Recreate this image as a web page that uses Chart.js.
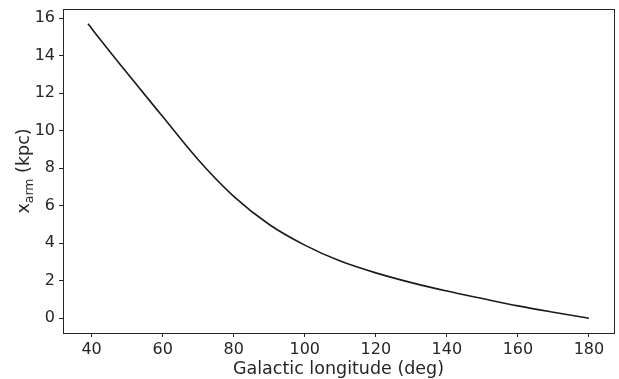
<!DOCTYPE html>
<html>
<head>
<meta charset="utf-8">
<script src="https://cdn.jsdelivr.net/npm/chart.js@4.4.1/dist/chart.umd.min.js"></script>
<style>
  html, body { margin: 0; padding: 0; background: #fff; }
  #wrap { width: 619px; height: 379px; }
</style>
</head>
<body>
<div id="wrap"><canvas id="arm-chart" width="619" height="379"></canvas></div>
<script>
// Galactic longitude (deg) and arm distance (kpc)
const longitude = [39, 40, 50, 60, 70, 80, 90, 100, 110, 120, 130, 140, 150, 160, 170, 180];
const xArm = [15.7, 15.45, 13.07, 10.75, 8.45, 6.5, 5.0, 3.9, 3.05, 2.42, 1.9, 1.45, 1.05, 0.66, 0.32, 0.0];

const xTicks = [40, 60, 80, 100, 120, 140, 160, 180];
const yTicks = [0, 2, 4, 6, 8, 10, 12, 14, 16];

const ink = '#262626';
const font = 'DejaVu Sans';

// box around the plot, plus the two axis labels (y one has a subscript)
const framePlugin = {
  id: 'frame',
  afterDraw(chart) {
    const { ctx, chartArea: a } = chart;
    ctx.save();
    ctx.strokeStyle = ink;
    ctx.lineWidth = 1;
    ctx.strokeRect(Math.round(a.left) + 0.5, Math.round(a.top) + 0.5,
      Math.round(a.right - a.left), Math.round(a.bottom - a.top));

    ctx.fillStyle = ink;
    ctx.textBaseline = 'alphabetic';
    ctx.font = '17.5px ' + font;
    ctx.textAlign = 'center';
    ctx.fillText('Galactic longitude (deg)', (a.left + a.right) / 2, 374);

    // y label: x_arm (kpc), rotated
    ctx.translate(29, (a.top + a.bottom) / 2);
    ctx.rotate(-Math.PI / 2);
    ctx.textAlign = 'left';
    ctx.font = '17.5px ' + font;
    const w1 = ctx.measureText('x').width;
    const w3 = ctx.measureText(' (kpc)').width;
    ctx.font = '12.5px ' + font;
    const w2 = ctx.measureText('arm').width;
    let x0 = -(w1 + w2 + w3) / 2;
    ctx.font = '17.5px ' + font;
    ctx.fillText('x', x0, 0);
    ctx.font = '12.5px ' + font;
    ctx.fillText('arm', x0 + w1, 4);
    ctx.font = '17.5px ' + font;
    ctx.fillText(' (kpc)', x0 + w1 + w2, 0);
    ctx.restore();
  }
};

const ctx = document.getElementById('arm-chart').getContext('2d');
new Chart(ctx, {
  type: 'line',
  data: {
    datasets: [{
      data: longitude.map((l, i) => ({ x: l, y: xArm[i] })),
      borderColor: '#1a1a1a',
      borderWidth: 1.6,
      pointRadius: 0,
      fill: false,
      cubicInterpolationMode: 'monotone'
    }]
  },
  options: {
    responsive: false,
    animation: false,
    layout: { padding: { top: 9, right: 5, left: 0, bottom: 0 } },
    plugins: { legend: { display: false }, tooltip: { enabled: false } },
    scales: {
      x: {
        type: 'linear',
        min: 31.95,
        max: 187.05,
        afterBuildTicks: s => { s.ticks = xTicks.map(v => ({ value: v })); },
        afterFit: s => { s.height = 46; s.paddingLeft = 0; s.paddingRight = 0; },
        border: { display: false },
        grid: { drawOnChartArea: false, drawTicks: true, tickLength: 4, color: ink },
        ticks: { color: ink, font: { family: font, size: 16 }, padding: 3, maxRotation: 0 }
      },
      y: {
        type: 'linear',
        min: -0.785,
        max: 16.485,
        afterBuildTicks: s => { s.ticks = yTicks.map(v => ({ value: v })); },
        afterFit: s => { s.width = 63; s.paddingTop = 0; s.paddingBottom = 0; },
        border: { display: false },
        grid: { drawOnChartArea: false, drawTicks: true, tickLength: 4, color: ink },
        ticks: { color: ink, font: { family: font, size: 16 }, padding: 4 }
      }
    }
  },
  plugins: [framePlugin]
});
</script>
</body>
</html>
